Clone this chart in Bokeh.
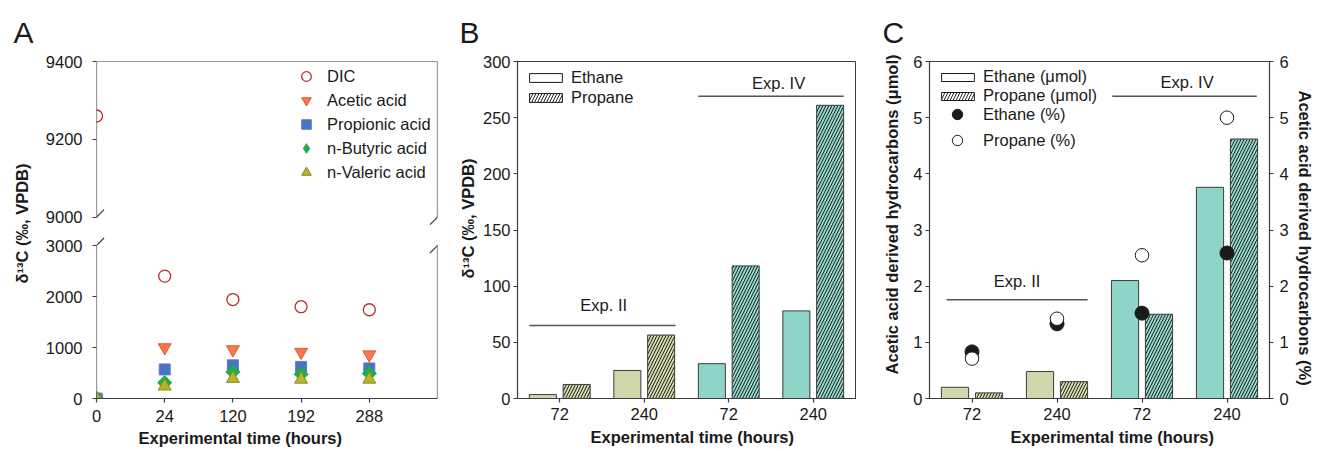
import numpy as np
from bokeh.plotting import figure
from bokeh.models import (Range1d, LinearAxis, FixedTicker, Legend, LegendItem, Title,
                          Arrow, ColumnDataSource)
from bokeh.layouts import row
from bokeh.transform import dodge
from bokeh.embed import file_html
from bokeh.resources import INLINE
from bokeh.core.properties import value

FONT = "Liberation Sans"
FS = "16.5px"
INK = "#1a1a1a"
AX = "#3c3c3c"

# ---------------- data ----------------
# Panel A: delta13C (permil, VPDB)
times_a = ["0", "24", "120", "192", "288"]
dic = [9260, 2400, 1940, 1800, 1740]
acetic = [0, 1000, 960, 910, 860]
propionic = [0, 570, 650, 620, 590]
butyric = [0, 310, 520, 475, 490]
valeric = [0, 240, 390, 375, 375]
ticks_low = [0, 1000, 2000, 3000]
ticks_high = [9000, 9200, 9400]

# Panels B and C
times_bc = ["72", "240", "72", "240"]
exps_bc = ["II", "II", "IV", "IV"]
ethane_d13c = [3.5, 25, 31, 78]
propane_d13c = [12.5, 56.5, 118, 261]
ethane_umol = [0.2, 0.48, 2.1, 3.76]
propane_umol = [0.1, 0.3, 1.5, 4.62]
ethane_pct = [0.83, 1.33, 1.52, 2.59]
propane_pct = [0.71, 1.42, 2.55, 5.0]

exp_colors = {"II": "#cfd8aa", "IV": "#8fd4c8"}
HATCH = dict(hatch_pattern="/", hatch_color="#262626", hatch_scale=6, hatch_weight=1)

H = 451


def style_axis(ax, standoff=3):
    ax.axis_line_color = AX
    ax.axis_line_width = 1.2
    ax.major_tick_line_color = AX
    ax.major_tick_line_width = 1.2
    ax.major_tick_out = 4
    ax.major_tick_in = 0
    ax.minor_tick_line_color = None
    ax.major_label_text_font = FONT
    ax.major_label_text_font_size = FS
    ax.major_label_text_color = INK
    ax.major_label_standoff = standoff


def txt(**kw):
    base = dict(text_font=value(FONT), text_font_size=FS, text_color=INK)
    base.update(kw)
    return base


def title(text, align="left", offset=0, standoff=0, size=FS, style="bold", valign="bottom"):
    return Title(text=text, align=align, offset=offset, standoff=standoff, text_font=FONT,
                 text_font_size=size, text_font_style=style, text_color=INK, vertical_align=valign)


def letter(p, text, offset):
    p.title.text = text
    p.title.align = "left"
    p.title.offset = offset
    p.title.standoff = 26
    p.title.text_font = FONT
    p.title.text_font_size = "30px"
    p.title.text_font_style = "normal"
    p.title.text_color = INK


def legend(items, loc, gw, gh, lh, standoff):
    return Legend(items=items, location=loc, glyph_width=gw, glyph_height=gh, spacing=0,
                  label_height=lh, label_standoff=standoff, padding=0, margin=0,
                  border_line_color=None, background_fill_alpha=0, label_text_font=FONT,
                  label_text_font_size=FS, label_text_color=INK)


def edge(p, x0, y0, x1, y1, rng="default"):
    p.add_layout(Arrow(end=None, x_start=x0, y_start=y0, x_end=x1, y_end=y1, y_range_name=rng,
                       line_color=AX, line_width=1.2))


# ---------------- panel A (broken y axis) ----------------
xa = np.arange(len(times_a))
src_a = ColumnDataSource(dict(x=xa, dic=dic, acetic=acetic, propionic=propionic,
                              butyric=butyric, valeric=valeric))
series_a = [
    ("DIC", "dic", dict(marker="circle", size=12, fill_color="white", line_color="#b22f2b", line_width=1.3)),
    ("Acetic acid", "acetic", dict(marker="inverted_triangle", size=13, fill_color="#f6794b", line_color="#e4573d", line_width=1)),
    ("Propionic acid", "propionic", dict(marker="square", size=11, fill_color="#4a72c2", line_color="#5a80cc", line_width=1)),
    ("n-Butyric acid", "butyric", dict(marker="square", angle=np.pi / 4, size=10, fill_color="#1fae4b", line_color="#1fae4b", line_width=1)),
    ("n-Valeric acid", "valeric", dict(marker="triangle", size=13, fill_color="#b6b42c", line_color="#8e8c1e", line_width=1)),
]

low = Range1d(0, 6608)          # lower segment: 0..3000 occupies the bottom part of the frame
high = Range1d(8534, 9400)      # upper segment: 9000..9400 occupies the top part of the frame


def low_pos(v):
    return low.start + (v - high.start) / (high.end - high.start) * (low.end - low.start)


pa = figure(width=450, height=H, x_range=Range1d(0, 5), y_range=low, toolbar_location=None,
            output_backend="svg", min_border_left=96, min_border_right=13, min_border_top=61,
            min_border_bottom=53, outline_line_color=None, background_fill_color="white",
            border_fill_color="white")
pa.extra_y_ranges = {"high": high}
pa.grid.visible = False
yt = ticks_low + [low_pos(v) for v in ticks_high]
pa.yaxis.ticker = FixedTicker(ticks=yt)
pa.yaxis.major_label_overrides = {low_pos(v): str(v) for v in ticks_high}
style_axis(pa.yaxis[0], standoff=10)
pa.yaxis.axis_line_color = None
pa.xaxis.ticker = FixedTicker(ticks=[float(v) for v in xa])
pa.xaxis.major_label_overrides = {float(v): t for v, t in zip(xa, times_a)}
style_axis(pa.xaxis[0], standoff=7)

items_a = []
for name, col, st in series_a:
    r = pa.scatter(x="x", y=col, source=src_a, **st)
    if col == "dic":
        r = pa.scatter(x="x", y=col, source=src_a, y_range_name="high", **st)
    if col == "butyric":
        # legend key only (drawn outside the visible range): legends ignore marker angle
        r = pa.scatter(x=[-10], y=[0], marker="diamond", fill_color=st["fill_color"],
                       line_color=st["line_color"])
    items_a.append(LegendItem(label=name, renderers=[r]))
pa.add_layout(legend(items_a, (198, 214), 24, 24, 20, 9))

# frame edges with the break
for x in (0, 5):
    edge(pa, x, 0, x, 3000)
    edge(pa, x, 9000, x, 9400, "high")
    edge(pa, x - 0.11, 3000 - 147, x + 0.11, 3000 + 147)
    edge(pa, x - 0.11, 9000 - 19.3, x + 0.11, 9000 + 19.3, "high")
edge(pa, 0, 9400, 5, 9400, "high")

letter(pa, "A", -83)
pa.add_layout(title("δ¹³C (‰, VPDB)", offset=115, standoff=20, valign="top"), "left")
pa.add_layout(title("Experimental time (hours)", offset=42, standoff=5), "below")

# ---------------- panel B ----------------
xb = np.arange(len(times_bc)) + 0.5
bar_colors = [exp_colors[e] for e in exps_bc]
src_b = ColumnDataSource(dict(x=xb, ethane=ethane_d13c, propane=propane_d13c, color=bar_colors))

pb = figure(width=420, height=H, x_range=Range1d(0, 4), y_range=Range1d(0, 300),
            toolbar_location=None, output_backend="svg", min_border_left=67, min_border_right=15,
            min_border_top=61, min_border_bottom=53, outline_line_color=AX,
            background_fill_color="white", border_fill_color="white")
pb.grid.visible = False
pb.yaxis.ticker = FixedTicker(ticks=[0, 50, 100, 150, 200, 250, 300])
pb.xaxis.ticker = FixedTicker(ticks=[float(v) for v in xb])
pb.xaxis.major_label_overrides = {float(v): t for v, t in zip(xb, times_bc)}
style_axis(pb.yaxis[0], standoff=3)
style_axis(pb.xaxis[0], standoff=5)

pb.vbar(x=dodge("x", -0.2), top="ethane", width=0.32, source=src_b, fill_color="color",
        line_color=AX, line_width=1)
pb.vbar(x=dodge("x", 0.2), top="propane", width=0.32, source=src_b, fill_color="color",
        line_color=AX, line_width=1, **HATCH)
# legend keys (kept outside the visible range)
lb1 = pb.vbar(x=[-10], top=[1], width=0.32, fill_color="white", line_color=INK, line_width=1)
lb2 = pb.vbar(x=[-10], top=[1], width=0.32, fill_color="white", line_color=INK, line_width=1, **HATCH)
pb.add_layout(legend([LegendItem(label="Ethane", renderers=[lb1]),
                      LegendItem(label="Propane", renderers=[lb2])], (8, 291), 41, 11, 20, 5))

pb.segment(x0=[0.14, 2.14], y0=[65, 269], x1=[1.87, 3.86], y1=[65, 269], line_color="#555555",
           line_width=1.5)
pb.text(x=[1.02, 3.09], y=[83, 281], text=["Exp. II", "Exp. IV"], text_align="center",
        text_baseline="middle", **txt())

letter(pb, "B", -58)
pb.add_layout(title("δ¹³C (‰, VPDB)", offset=120, standoff=6), "left")
pb.add_layout(title("Experimental time (hours)", offset=73, standoff=7), "below")

# ---------------- panel C ----------------
src_c = ColumnDataSource(dict(x=xb, ethane=ethane_umol, propane=propane_umol,
                              ethane_pct=ethane_pct, propane_pct=propane_pct, color=bar_colors))
pc = figure(width=448, height=H, x_range=Range1d(0, 4), y_range=Range1d(0, 6),
            toolbar_location=None, output_backend="svg", min_border_left=59, min_border_right=49,
            min_border_top=61, min_border_bottom=53, outline_line_color=AX,
            background_fill_color="white", border_fill_color="white")
pc.extra_y_ranges = {"pct": Range1d(0, 6)}
pc.grid.visible = False
pc.yaxis.ticker = FixedTicker(ticks=list(range(7)))
pc.xaxis.ticker = FixedTicker(ticks=[float(v) for v in xb])
pc.xaxis.major_label_overrides = {float(v): t for v, t in zip(xb, times_bc)}
style_axis(pc.yaxis[0], standoff=3)
style_axis(pc.xaxis[0], standoff=5)
ax_r = LinearAxis(y_range_name="pct", ticker=FixedTicker(ticks=list(range(7))))
style_axis(ax_r, standoff=6)
pc.add_layout(ax_r, "right")

pc.vbar(x=dodge("x", -0.2), top="ethane", width=0.32, source=src_c, fill_color="color",
        line_color=AX, line_width=1)
pc.vbar(x=dodge("x", 0.2), top="propane", width=0.32, source=src_c, fill_color="color",
        line_color=AX, line_width=1, **HATCH)
rc_e = pc.scatter(x="x", y="ethane_pct", y_range_name="pct", source=src_c, size=14,
                  fill_color=INK, line_color=INK, line_width=1)
rc_p = pc.scatter(x="x", y="propane_pct", y_range_name="pct", source=src_c, size=13.5,
                  fill_color="white", line_color=INK, line_width=1)
lc1 = pc.vbar(x=[-10], top=[1], width=0.32, fill_color="white", line_color=INK, line_width=1)
lc2 = pc.vbar(x=[-10], top=[1], width=0.32, fill_color="white", line_color=INK, line_width=1, **HATCH)
pc.add_layout(legend([LegendItem(label="Ethane (μmol)", renderers=[lc1]),
                      LegendItem(label="Propane (μmol)", renderers=[lc2])], (8, 293), 41, 10, 19, 5))
pc.add_layout(legend([LegendItem(label="Ethane (%)", renderers=[rc_e]),
                      LegendItem(label="Propane (%)", renderers=[rc_p])], (15, 245), 26, 26, 19, 13))

pc.segment(x0=[0.2, 2.15], y0=[1.76, 5.38], x1=[1.86, 3.85], y1=[1.76, 5.38], line_color="#555555",
           line_width=1.5)
pc.text(x=[1.03, 3.03], y=[2.1, 5.63], text=["Exp. II", "Exp. IV"], text_align="center",
        text_baseline="middle", **txt())

letter(pc, "C", -47)
pc.add_layout(title("Acetic acid derived hydrocarbons (μmol)", offset=24, standoff=16, valign="top"), "left")
pc.add_layout(title("Acetic acid derived hydrocarbons (%)", offset=29, standoff=5, valign="top"), "right")
pc.add_layout(title("Experimental time (hours)", offset=81, standoff=7), "below")

layout = row(pa, pb, pc)
open("out.html", "w").write(file_html(layout, INLINE))
